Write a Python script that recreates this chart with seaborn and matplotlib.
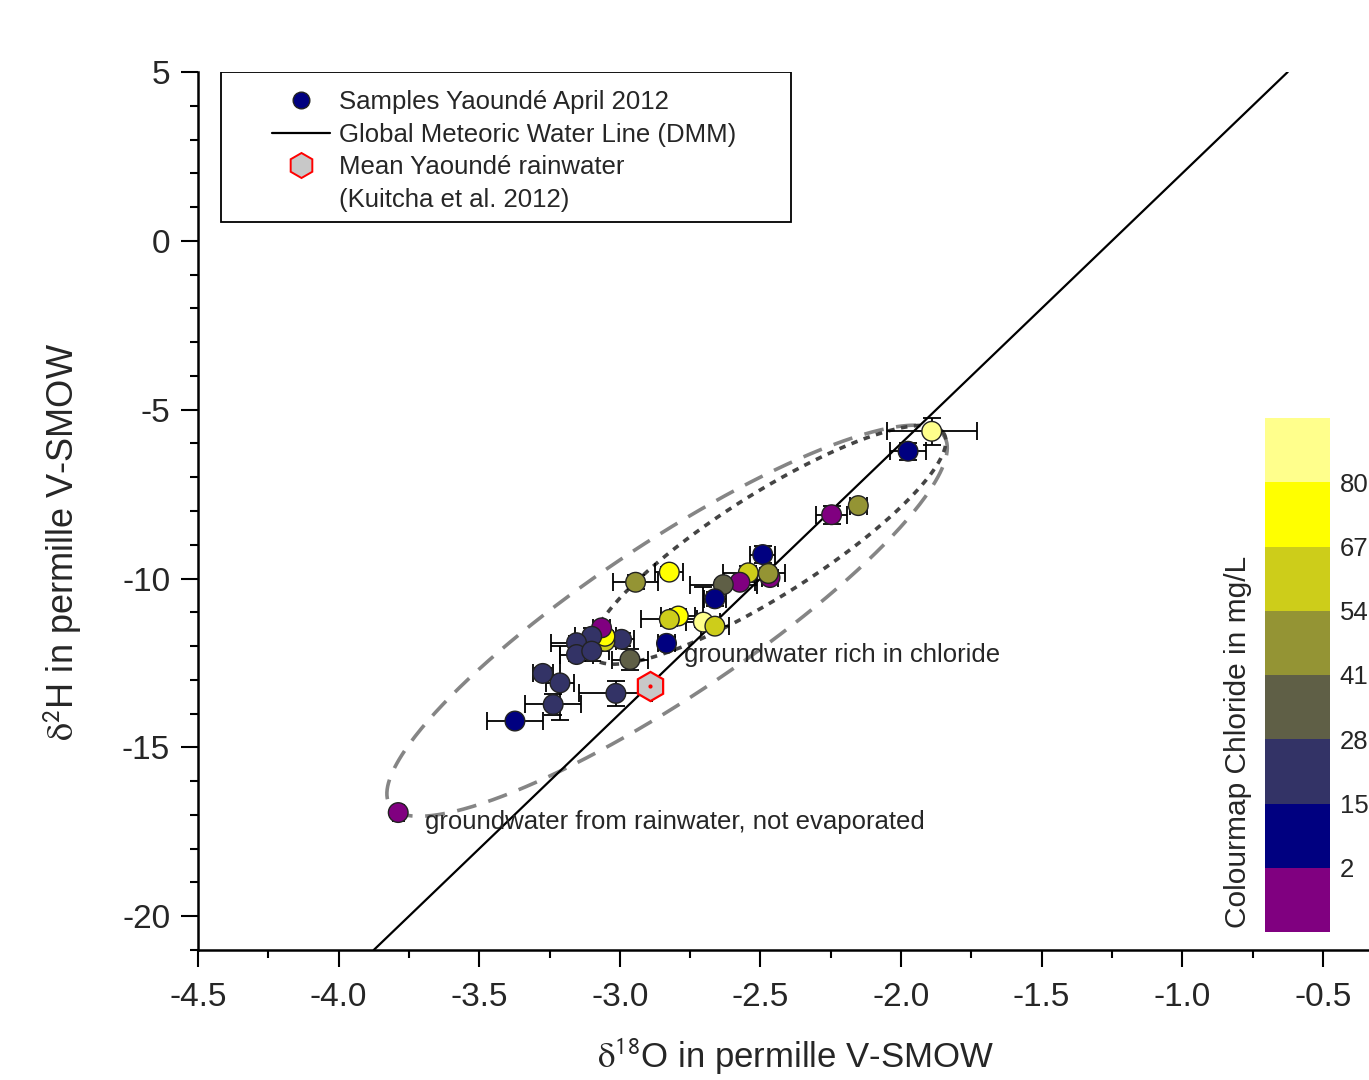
import numpy as np
import pandas as pd
import matplotlib
matplotlib.use("Agg")
import matplotlib.pyplot as plt
import seaborn as sns
from matplotlib.colors import ListedColormap, BoundaryNorm
from matplotlib.lines import Line2D
from matplotlib.patches import Rectangle
from matplotlib.cm import ScalarMappable

# groundwater samples Yaounde, April 2012
d18o = [-1.891, -1.975, -2.247, -2.152, -2.492, -2.543, -2.466, -2.472, -2.573, -2.632,
        -2.662, -2.824, -2.944, -2.792, -2.824, -2.703, -2.662, -2.834, -2.964, -2.994,
        -3.053, -3.053, -3.065, -3.100, -3.154, -3.154, -3.100, -3.213, -3.274, -3.237,
        -3.014, -3.373, -3.788]
d2h = [-5.64, -6.23, -8.11, -7.84, -9.29, -9.83, -9.97, -9.85, -10.11, -10.18,
       -10.60, -9.81, -10.11, -11.11, -11.21, -11.29, -11.41, -11.92, -12.40, -11.80,
       -11.86, -11.71, -11.46, -11.71, -11.90, -12.25, -12.15, -13.09, -12.81, -13.73,
       -13.40, -14.22, -16.93]
d18o_err = [0.16, 0.065, 0.055, 0.03, 0.045, 0.09, 0.03, 0.06, 0.055, 0.12,
            0.04, 0.05, 0.08, 0.06, 0.10, 0.06, 0.05, 0.03, 0.065, 0.045,
            0.04, 0.04, 0.03, 0.06, 0.09, 0.06, 0.06, 0.05, 0.035, 0.10,
            0.13, 0.10, 0.02]
d2h_err_lo = [0.40, 0.25, 0.27, 0.15, 0.25, 0.20, 0.10, 0.15, 0.10, 0.15,
              0.20, 0.15, 0.20, 0.20, 0.20, 0.15, 0.10, 0.20, 0.30, 0.20,
              0.15, 0.15, 0.10, 0.25, 0.20, 0.20, 0.30, 1.10, 0.15, 0.30,
              0.38, 0.10, 0.12]
d2h_err_hi = [0.40, 0.25, 0.27, 0.15, 0.25, 0.20, 0.10, 0.15, 0.10, 0.15,
              0.20, 0.15, 0.20, 0.20, 0.20, 1.05, 0.10, 0.20, 0.30, 0.20,
              0.15, 0.15, 0.10, 0.25, 0.20, 0.20, 0.30, 1.10, 0.15, 0.30,
              0.38, 0.10, 0.12]
chloride = [85, 8, 1, 48, 8, 60, 1, 48, 1, 35,
            8, 73, 48, 73, 60, 85, 60, 8, 35, 21,
            60, 73, 1, 21, 21, 21, 21, 21, 21, 21,
            21, 8, 1]

# mean rainwater (Kuitcha et al. 2012)
rain_d18o = [-2.893]
rain_d2h = [-13.19]

# colour classes for chloride in mg/L
cl_bounds = [-11, 2, 15, 28, 41, 54, 67, 80, 93]
cl_ticks = [2, 15, 28, 41, 54, 67, 80]
cl_colors = ["#800080", "#000080", "#333366", "#5f5f46",
             "#949434", "#cdcd1a", "#ffff00", "#ffff8c"]

# GMWL d2H = 8 d18O + 10
gmwl_slope = 8
gmwl_intercept = 10

# outlines drawn around the sample groups (centre, major and minor half axes in data units)
outer_center = (-2.832, -11.25)
outer_major = (0.985, 5.47)
outer_minor = (0.150, -1.90)
inner_center = (-2.473, -9.0)
inner_major = (0.625, 3.30)
inner_minor = (0.097, -1.27)

sns.set_style("ticks")
plt.rcParams["font.family"] = ["Liberation Sans", "DejaVu Sans"]
plt.rcParams["mathtext.fontset"] = "stix"
plt.rcParams["axes.unicode_minus"] = False

df = pd.DataFrame({"d18O": d18o, "d2H": d2h, "Cl": chloride})
df["cl_class"] = np.digitize(df["Cl"], cl_bounds[1:-1])
palette = {i: c for i, c in enumerate(cl_colors)}

fig = plt.figure(figsize=(13.69, 10.8), dpi=100)
ax = fig.add_axes([198 / 1369, 130 / 1080, 1171 / 1369, 878 / 1080])

ax.axline((0, gmwl_intercept), slope=gmwl_slope, color="black", lw=1.6, zorder=2)

t = np.linspace(0, 2 * np.pi, 400)
ax.plot(outer_center[0] + outer_major[0] * np.cos(t) + outer_minor[0] * np.sin(t),
        outer_center[1] + outer_major[1] * np.cos(t) + outer_minor[1] * np.sin(t),
        color="#858585", lw=2.6, dashes=(5.5, 3.5), zorder=1)
ax.plot(inner_center[0] + inner_major[0] * np.cos(t) + inner_minor[0] * np.sin(t),
        inner_center[1] + inner_major[1] * np.cos(t) + inner_minor[1] * np.sin(t),
        color="#444444", lw=2.6, dashes=(1.8, 1.8), zorder=1)

ax.errorbar(df["d18O"], df["d2H"], xerr=d18o_err, yerr=[d2h_err_lo, d2h_err_hi],
            fmt="none", ecolor="black", elinewidth=1.3, capsize=6.5, capthick=1.3, zorder=3)
sns.scatterplot(data=df, x="d18O", y="d2H", hue="cl_class", palette=palette,
                s=200, edgecolor="#222222", linewidth=1, legend=False, zorder=4, ax=ax)

ax.plot(rain_d18o, rain_d2h, marker="h", ms=21, mfc="#c8c8c8", mec="red", mew=1.6,
        ls="none", zorder=5)
ax.plot(rain_d18o, rain_d2h, marker="o", ms=2, color="red", ls="none", zorder=6)

ax.text(-2.772, -12.25, "groundwater rich in chloride", fontsize=18.5, va="center", ha="left")
ax.text(-3.693, -17.22, "groundwater from rainwater, not evaporated", fontsize=18.5,
        va="center", ha="left")

ax.set_xlim(-4.5, -0.336)
ax.set_ylim(-21, 5)
ax.set_xticks(np.arange(-4.5, -0.3, 0.5))
ax.set_xticks(np.arange(-4.25, -0.3, 0.5), minor=True)
ax.set_xticklabels([f"{v:.1f}" for v in np.arange(-4.5, -0.3, 0.5)])
ax.set_yticks(np.arange(-20, 6, 5))
ax.set_yticks(np.arange(-21, 6, 1), minor=True)
ax.tick_params(which="major", direction="out", length=12, width=1.5, labelsize=24, pad=8,
               color="black")
ax.tick_params(axis="x", which="major", pad=11)
ax.tick_params(which="minor", direction="out", length=6, width=1.5, color="black")
for s in ["top", "right"]:
    ax.spines[s].set_visible(False)
for s in ["left", "bottom"]:
    ax.spines[s].set_linewidth(1.8)
    ax.spines[s].set_color("black")

ax.set_xlabel(r"$\mathrm{\delta}^{\mathsf{18}}$O in permille V-SMOW", fontsize=25)
ax.xaxis.set_label_coords(0.51, -0.098)
ax.xaxis.label.set_va("top")
ax.set_ylabel(r"$\mathrm{\delta}^{\mathsf{2}}$H in permille V-SMOW", fontsize=26)
ax.yaxis.set_label_coords(-0.097, 0.465)

# legend (second line of the rainwater entry as its own row so the hexagon sits on line one)
ax.add_patch(Rectangle((0.0196, 0.829), 0.487, 0.171, transform=ax.transAxes,
                       fill=False, edgecolor="black", lw=1.3, zorder=7))
handles = [
    Line2D([], [], marker="o", ls="none", ms=12, mfc="#000080", mec="#222222"),
    Line2D([], [], color="black", lw=1.6),
    Line2D([], [], marker="h", ls="none", ms=18, mfc="#c8c8c8", mec="red", mew=1.4),
    Line2D([], [], ls="none"),
]
labels = ["Samples Yaoundé April 2012", "Global Meteoric Water Line (DMM)",
          "Mean Yaoundé rainwater", "(Kuitcha et al. 2012)"]
ax.legend(handles, labels, loc="upper left", bbox_to_anchor=(0.0632, 0.979),
          frameon=False, fontsize=18.5, borderpad=0, borderaxespad=0,
          handlelength=2.25, handletextpad=0.35, labelspacing=0.33)

# colour scale
cmap = ListedColormap(cl_colors)
norm = BoundaryNorm(cl_bounds, cmap.N)
cax = fig.add_axes([1265 / 1369, 148 / 1080, 65 / 1369, 514 / 1080])
cb = fig.colorbar(ScalarMappable(norm=norm, cmap=cmap), cax=cax, ticks=cl_ticks)
cb.outline.set_visible(False)
cax.minorticks_off()
cax.tick_params(which="both", length=0, labelsize=18.5, pad=7)
cb.set_label("Colourmap Chloride in mg/L", fontsize=21.5)
cax.yaxis.set_label_position("left")
cax.yaxis.set_label_coords(-0.2, 0.37)

fig.savefig("out.png", dpi=100)
